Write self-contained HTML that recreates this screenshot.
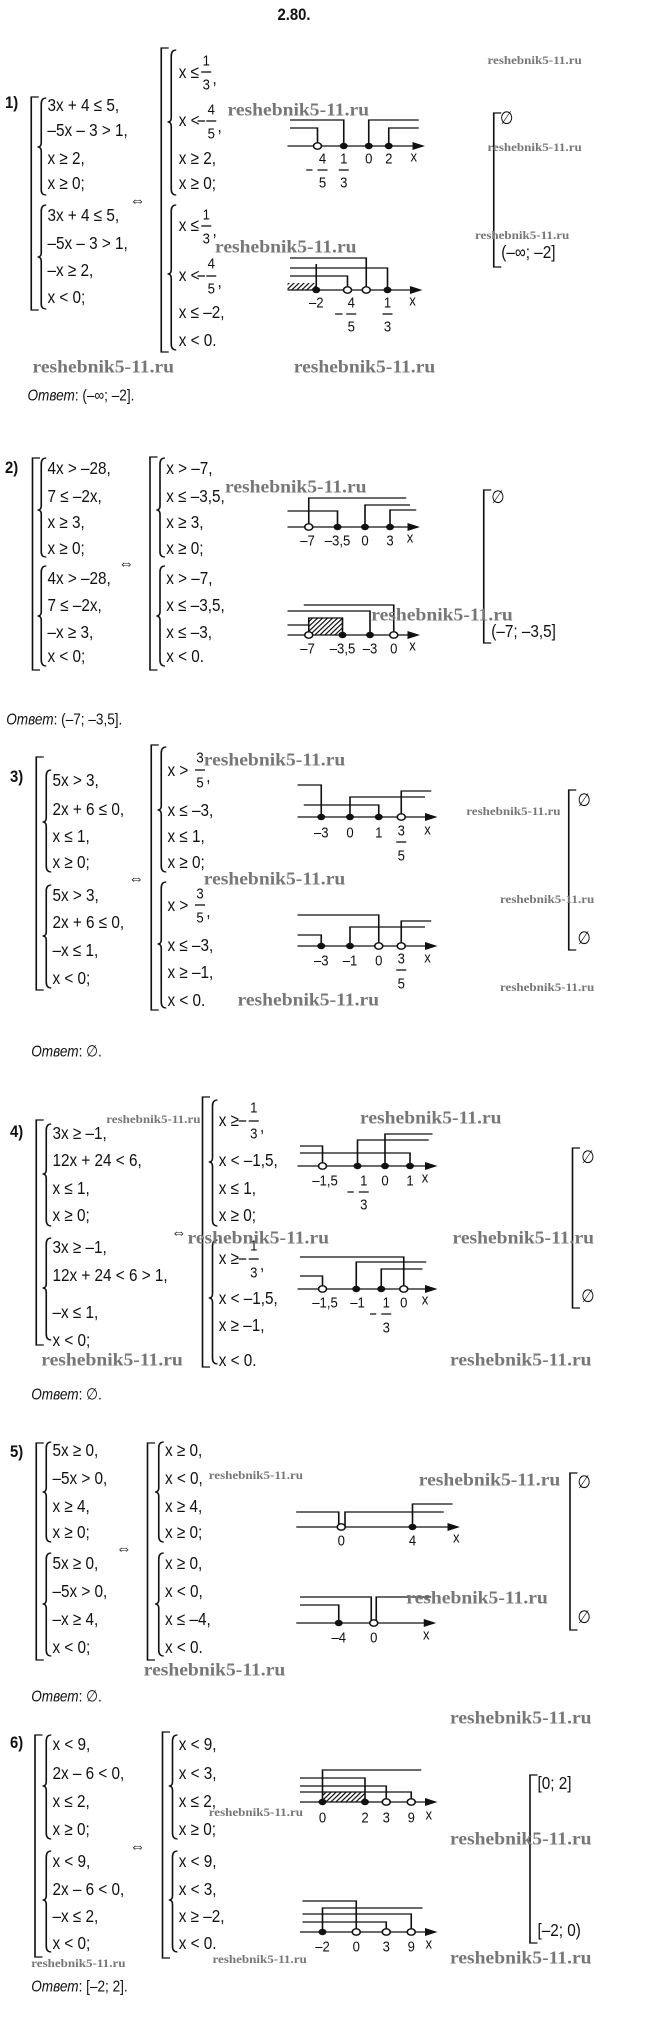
<!DOCTYPE html>
<html><head><meta charset="utf-8"><style>
body{margin:0;background:#fff}
svg{display:block}
.m{font-family:"Liberation Sans",sans-serif;font-size:18px;fill:#111;dominant-baseline:central;transform-box:fill-box;transform-origin:0 50%;transform:scaleX(.68)}
.f{font-family:"Liberation Sans",sans-serif;font-size:15px;fill:#111;dominant-baseline:central;text-anchor:middle;transform-box:fill-box;transform-origin:50% 50%;transform:scaleX(.7)}
.b{font-family:"Liberation Sans",sans-serif;font-size:17px;font-weight:bold;fill:#111;dominant-baseline:central;transform-box:fill-box;transform-origin:0 50%;transform:scaleX(.7)}
.a{font-family:"Liberation Sans",sans-serif;font-size:16px;fill:#111;dominant-baseline:central;transform-box:fill-box;transform-origin:0 50%;transform:scaleX(.68)}
.w{font-family:"Liberation Serif",serif;font-size:18px;font-weight:bold;fill:#777;dominant-baseline:central;transform-box:fill-box;transform-origin:0 50%;transform:scaleX(.87)}
.s{font-family:"Liberation Serif",serif;font-size:12px;font-weight:bold;fill:#777;dominant-baseline:central;transform-box:fill-box;transform-origin:0 50%;transform:scaleX(.87)}
.k{stroke:#111;stroke-width:1.3;fill:none}
.o{fill:#fff;stroke:#111;stroke-width:1.3}
.d{fill:#111}
</style></head><body>
<svg width="650" height="2037" viewBox="0 0 650 2037" xmlns="http://www.w3.org/2000/svg">
<defs><pattern id="h" width="4" height="6" patternUnits="userSpaceOnUse" patternTransform="skewX(-40)"><rect width="1.4" height="6" fill="#111"/></pattern></defs>
<g transform="scale(1.25,1)">
<text class="b" x="222" y="15">2.80.</text>

<!-- ===== 1 ===== -->
<text class="b" x="4" y="103">1)</text>
<path class="k" d="M31 97H25V310H31"/>
<path class="k" d="M37 98Q33 98 33 104V143Q33 147 30 147Q33 147 33 151V190Q33 195 37 195"/>
<path class="k" d="M37 205Q33 205 33 211V253Q33 257 30 257Q33 257 33 261V304Q33 309 37 309"/>
<text class="m" x="38" y="105">3x + 4 ≤ 5,</text>
<text class="m" x="38" y="130">–5x – 3 &gt; 1,</text>
<text class="m" x="38" y="158">x ≥ 2,</text>
<text class="m" x="38" y="183">x ≥ 0;</text>
<text class="m" x="38" y="215">3x + 4 ≤ 5,</text>
<text class="m" x="38" y="243">–5x – 3 &gt; 1,</text>
<text class="m" x="38" y="270">–x ≥ 2,</text>
<text class="m" x="38" y="297">x &lt; 0;</text>
<text class="m" x="104" y="200">⇔</text>
<path class="k" d="M135 48H129V352H135"/>
<path class="k" d="M141 50Q137 50 137 56V118Q137 122 134 122Q137 122 137 126V189Q137 195 141 195"/>
<path class="k" d="M141 205Q137 205 137 211V270Q137 274 134 274Q137 274 137 278V344Q137 350 141 350"/>
<text class="m" x="143" y="72">x ≤</text><text class="f" x="165" y="60">1</text><path class="k" d="M161 72H169"/><text class="f" x="165" y="84">3</text><text class="m" x="170" y="78">,</text>
<text class="m" x="143" y="120">x &lt;</text><path class="k" d="M158 121H164"/><text class="f" x="169" y="109">4</text><path class="k" d="M165 121H173"/><text class="f" x="169" y="133">5</text><text class="m" x="174" y="126">,</text>
<text class="m" x="143" y="158">x ≥ 2,</text>
<text class="m" x="143" y="183">x ≥ 0;</text>
<text class="m" x="143" y="225">x ≤</text><text class="f" x="165" y="214">1</text><path class="k" d="M161 226H169"/><text class="f" x="165" y="238">3</text><text class="m" x="170" y="230">,</text>
<text class="m" x="143" y="275">x &lt;</text><path class="k" d="M158 276H164"/><text class="f" x="169" y="263">4</text><path class="k" d="M165 276H173"/><text class="f" x="169" y="288">5</text><text class="m" x="174" y="281">,</text>
<text class="m" x="143" y="312">x ≤ –2,</text>
<text class="m" x="143" y="340">x &lt; 0.</text>
<!-- NL 1a -->
<path class="k" d="M230 146H334"/><path class="d" d="M340 146L330 142V150Z"/>
<path class="k" d="M232 120H275V146M232 128H254V146M295 146V120H335M311 146V128H335"/>
<circle class="o" cx="254" cy="146" r="3.2"/><circle class="d" cx="275" cy="146" r="3.2"/><circle class="d" cx="295" cy="146" r="3.2"/><circle class="d" cx="311" cy="146" r="3.2"/>
<text class="f" x="258" y="158">4</text><path class="k" d="M245 170H250M254 170H262"/><text class="f" x="258" y="182">5</text>
<text class="f" x="275" y="158">1</text><path class="k" d="M271 170H279"/><text class="f" x="275" y="182">3</text>
<text class="f" x="295" y="158">0</text><text class="f" x="311" y="158">2</text><text class="f" x="331" y="156">x</text>
<!-- NL 1b -->
<rect x="230" y="283" width="23" height="7" fill="url(#h)"/>
<path class="k" d="M230 290H332"/><path class="d" d="M338 290L328 286V294Z"/>
<path class="k" d="M232 258H293V290M232 268H310V290M232 276H278V290M253 290V264"/>
<circle class="d" cx="253" cy="290" r="3.2"/><circle class="o" cx="278" cy="290" r="3.2"/><circle class="o" cx="293" cy="290" r="3.2"/><circle class="d" cx="310" cy="290" r="3.2"/>
<text class="f" x="253" y="302">–2</text>
<text class="f" x="281" y="302">4</text><path class="k" d="M268 314H274M277 314H285"/><text class="f" x="281" y="326">5</text>
<text class="f" x="310" y="302">1</text><path class="k" d="M306 314H314"/><text class="f" x="310" y="326">3</text>
<text class="f" x="330" y="300">x</text>
<path class="k" d="M401 113H395V267H401"/>
<text class="m" x="400" y="118">∅</text>
<text class="m" x="401" y="252">(–∞;  –2]</text>
<text class="s" x="390" y="60">reshebnik5-11.ru</text>
<text class="w" x="182" y="110">reshebnik5-11.ru</text>
<text class="s" x="390" y="147">reshebnik5-11.ru</text>
<text class="s" x="380" y="235">reshebnik5-11.ru</text>
<text class="w" x="172" y="247">reshebnik5-11.ru</text>
<text class="w" x="26" y="367">reshebnik5-11.ru</text>
<text class="w" x="235" y="367">reshebnik5-11.ru</text>
<text class="a" x="22" y="396"><tspan font-style="italic">Ответ</tspan>: (–∞; –2].</text>

<!-- ===== 2 ===== -->
<text class="b" x="4" y="468">2)</text>
<path class="k" d="M32 458H26V670H32"/>
<path class="k" d="M37 458Q33 458 33 464V506Q33 510 30 510Q33 510 33 514V552Q33 557 37 557"/>
<path class="k" d="M37 566Q33 566 33 572V612Q33 616 30 616Q33 616 33 620V660Q33 666 37 666"/>
<text class="m" x="38" y="468">4x &gt; –28,</text>
<text class="m" x="38" y="496">7 ≤ –2x,</text>
<text class="m" x="38" y="522">x ≥ 3,</text>
<text class="m" x="38" y="548">x ≥ 0;</text>
<text class="m" x="38" y="578">4x &gt; –28,</text>
<text class="m" x="38" y="605">7 ≤ –2x,</text>
<text class="m" x="38" y="632">–x ≥ 3,</text>
<text class="m" x="38" y="656">x &lt; 0;</text>
<text class="m" x="95" y="563">⇔</text>
<path class="k" d="M126 457H120V670H126"/>
<path class="k" d="M132 458Q128 458 128 464V506Q128 510 125 510Q128 510 128 514V552Q128 557 132 557"/>
<path class="k" d="M132 566Q128 566 128 572V612Q128 616 125 616Q128 616 128 620V660Q128 666 132 666"/>
<text class="m" x="133" y="468">x &gt; –7,</text>
<text class="m" x="133" y="496">x ≤ –3,5,</text>
<text class="m" x="133" y="522">x ≥ 3,</text>
<text class="m" x="133" y="548">x ≥ 0;</text>
<text class="m" x="133" y="578">x &gt; –7,</text>
<text class="m" x="133" y="605">x ≤ –3,5,</text>
<text class="m" x="133" y="632">x ≤ –3,</text>
<text class="m" x="133" y="656">x &lt; 0.</text>
<path class="k" d="M230 527H330"/><path class="d" d="M336 527L326 523V531Z"/>
<path class="k" d="M247 527V498H325M230 511H270V527M292 527V505H328M312 527V510H333"/>
<circle class="o" cx="247" cy="527" r="3.2"/><circle class="d" cx="270" cy="527" r="3.2"/><circle class="d" cx="292" cy="527" r="3.2"/><circle class="d" cx="312" cy="527" r="3.2"/>
<text class="f" x="246" y="540">–7</text><text class="f" x="270" y="540">–3,5</text><text class="f" x="292" y="540">0</text><text class="f" x="312" y="540">3</text><text class="f" x="328" y="537">x</text>
<rect x="247" y="618" width="27" height="17" fill="url(#h)"/>
<path class="k" d="M230 635H330"/><path class="d" d="M336 635L326 631V639Z"/>
<path class="k" d="M243 605H315V635M230 611H296V635M247 635V618H274V635M230 625H247"/>
<circle class="o" cx="247" cy="635" r="3.2"/><circle class="d" cx="274" cy="635" r="3.2"/><circle class="d" cx="296" cy="635" r="3.2"/><circle class="o" cx="315" cy="635" r="3.2"/>
<text class="f" x="246" y="648">–7</text><text class="f" x="274" y="648">–3,5</text><text class="f" x="296" y="648">–3</text><text class="f" x="315" y="648">0</text><text class="f" x="330" y="645">x</text>
<path class="k" d="M393 490H387V643H393"/>
<text class="m" x="393" y="497">∅</text>
<text class="m" x="393" y="631">(–7;  –3,5]</text>
<text class="w" x="180" y="487">reshebnik5-11.ru</text>
<text class="w" x="297" y="615">reshebnik5-11.ru</text>
<text class="a" x="5" y="720"><tspan font-style="italic">Ответ</tspan>: (–7; –3,5].</text>

<!-- ===== 3 ===== -->
<text class="b" x="8" y="777">3)</text>
<path class="k" d="M35 757H29V990H35"/>
<path class="k" d="M41 770Q37 770 37 776V818Q37 822 34 822Q37 822 37 826V866Q37 872 41 872"/>
<path class="k" d="M41 885Q37 885 37 891V932Q37 936 34 936Q37 936 37 940V982Q37 988 41 988"/>
<text class="m" x="42" y="780">5x &gt; 3,</text>
<text class="m" x="42" y="809">2x + 6 ≤ 0,</text>
<text class="m" x="42" y="836">x ≤ 1,</text>
<text class="m" x="42" y="862">x ≥ 0;</text>
<text class="m" x="42" y="895">5x &gt; 3,</text>
<text class="m" x="42" y="922">2x + 6 ≤ 0,</text>
<text class="m" x="42" y="950">–x ≤ 1,</text>
<text class="m" x="42" y="978">x &lt; 0;</text>
<text class="m" x="103" y="878">⇔</text>
<path class="k" d="M127 745H121V1010H127"/>
<path class="k" d="M133 747Q129 747 129 753V806Q129 810 126 810Q129 810 129 814V866Q129 872 133 872"/>
<path class="k" d="M133 882Q129 882 129 888V940Q129 944 126 944Q129 944 129 948V1002Q129 1008 133 1008"/>
<text class="m" x="134" y="770">x &gt;</text><text class="f" x="160" y="757">3</text><path class="k" d="M156 770H164"/><text class="f" x="160" y="782">5</text><text class="m" x="165" y="776">,</text>
<text class="m" x="134" y="810">x ≤ –3,</text>
<text class="m" x="134" y="836">x ≤ 1,</text>
<text class="m" x="134" y="862">x ≥ 0;</text>
<text class="m" x="134" y="905">x &gt;</text><text class="f" x="160" y="893">3</text><path class="k" d="M156 905H164"/><text class="f" x="160" y="917">5</text><text class="m" x="165" y="911">,</text>
<text class="m" x="134" y="945">x ≤ –3,</text>
<text class="m" x="134" y="972">x ≥ –1,</text>
<text class="m" x="134" y="1000">x &lt; 0.</text>
<path class="k" d="M238 817H344"/><path class="d" d="M350 817L340 813V821Z"/>
<path class="k" d="M238 785H257V817M243 805H303V817M280 817V797H340M321 817V791H345"/>
<circle class="d" cx="257" cy="817" r="3.2"/><circle class="d" cx="280" cy="817" r="3.2"/><circle class="d" cx="303" cy="817" r="3.2"/><circle class="o" cx="321" cy="817" r="3.2"/>
<text class="f" x="257" y="832">–3</text><text class="f" x="280" y="832">0</text><text class="f" x="303" y="832">1</text>
<text class="f" x="321" y="830">3</text><path class="k" d="M317 842H325"/><text class="f" x="321" y="855">5</text><text class="f" x="342" y="829">x</text>
<path class="k" d="M238 946H344"/><path class="d" d="M350 946L340 942V950Z"/>
<path class="k" d="M238 915H303V946M238 935H257V946M280 946V927H340M321 946V921H345"/>
<circle class="d" cx="257" cy="946" r="3.2"/><circle class="d" cx="280" cy="946" r="3.2"/><circle class="o" cx="303" cy="946" r="3.2"/><circle class="o" cx="321" cy="946" r="3.2"/>
<text class="f" x="257" y="960">–3</text><text class="f" x="280" y="960">–1</text><text class="f" x="303" y="960">0</text>
<text class="f" x="321" y="958">3</text><path class="k" d="M317 970H325"/><text class="f" x="321" y="983">5</text><text class="f" x="342" y="957">x</text>
<path class="k" d="M461 790H455V950H461"/>
<text class="m" x="462" y="800">∅</text>
<text class="m" x="462" y="938">∅</text>
<text class="w" x="163" y="760">reshebnik5-11.ru</text>
<text class="s" x="373" y="811">reshebnik5-11.ru</text>
<text class="w" x="163" y="879">reshebnik5-11.ru</text>
<text class="s" x="400" y="899">reshebnik5-11.ru</text>
<text class="s" x="400" y="987">reshebnik5-11.ru</text>
<text class="w" x="190" y="1000">reshebnik5-11.ru</text>
<text class="a" x="25" y="1052"><tspan font-style="italic">Ответ</tspan>: ∅.</text>

<!-- ===== 4 ===== -->
<text class="b" x="8" y="1132">4)</text>
<path class="k" d="M35 1120H29V1345H35"/>
<path class="k" d="M41 1124Q37 1124 37 1130V1170Q37 1174 34 1174Q37 1174 37 1178V1220Q37 1226 41 1226"/>
<path class="k" d="M41 1238Q37 1238 37 1244V1284Q37 1288 34 1288Q37 1288 37 1292V1334Q37 1340 41 1340"/>
<text class="m" x="42" y="1133">3x ≥ –1,</text>
<text class="m" x="42" y="1160">12x + 24 &lt; 6,</text>
<text class="m" x="42" y="1188">x ≤ 1,</text>
<text class="m" x="42" y="1215">x ≥ 0;</text>
<text class="m" x="42" y="1247">3x ≥ –1,</text>
<text class="m" x="42" y="1275">12x + 24 &lt; 6 &gt; 1,</text>
<text class="m" x="42" y="1312">–x ≤ 1,</text>
<text class="m" x="42" y="1340">x &lt; 0;</text>
<text class="m" x="137" y="1232">⇔</text>
<path class="k" d="M168 1097H162V1367H168"/>
<path class="k" d="M174 1100Q170 1100 170 1106V1158Q170 1162 167 1162Q170 1162 170 1166V1220Q170 1226 174 1226"/>
<path class="k" d="M174 1240Q170 1240 170 1246V1294Q170 1298 167 1298Q170 1298 170 1302V1358Q170 1364 174 1364"/>
<text class="m" x="175" y="1120">x ≥</text><path class="k" d="M191 1121H197"/><text class="f" x="203" y="1107">1</text><path class="k" d="M199 1121H207"/><text class="f" x="203" y="1133">3</text><text class="m" x="208" y="1126">,</text>
<text class="m" x="175" y="1160">x &lt; –1,5,</text>
<text class="m" x="175" y="1188">x ≤ 1,</text>
<text class="m" x="175" y="1215">x ≥ 0;</text>
<text class="m" x="175" y="1258">x ≥</text><path class="k" d="M191 1259H197"/><text class="f" x="203" y="1245">1</text><path class="k" d="M199 1259H207"/><text class="f" x="203" y="1272">3</text><text class="m" x="208" y="1264">,</text>
<text class="m" x="175" y="1298">x &lt; –1,5,</text>
<text class="m" x="175" y="1325">x ≥ –1,</text>
<text class="m" x="175" y="1360">x &lt; 0.</text>
<path class="k" d="M238 1166H344"/><path class="d" d="M350 1166L340 1162V1170Z"/>
<path class="k" d="M240 1146H258V1166M240 1153H328V1166M286 1166V1140H343M308 1166V1134H346"/>
<circle class="o" cx="258" cy="1166" r="3.2"/><circle class="d" cx="286" cy="1166" r="3.2"/><circle class="d" cx="308" cy="1166" r="3.2"/><circle class="d" cx="328" cy="1166" r="3.2"/>
<text class="f" x="260" y="1180">–1,5</text>
<text class="f" x="291" y="1180">1</text><path class="k" d="M278 1192H283M287 1192H295"/><text class="f" x="291" y="1204">3</text>
<text class="f" x="308" y="1180">0</text><text class="f" x="328" y="1180">1</text><text class="f" x="340" y="1177">x</text>
<path class="k" d="M238 1289H344"/><path class="d" d="M350 1289L340 1285V1293Z"/>
<path class="k" d="M240 1257H323V1289M240 1276H258V1289M285 1289V1262H341M305 1289V1269H338"/>
<circle class="o" cx="258" cy="1289" r="3.2"/><circle class="d" cx="285" cy="1289" r="3.2"/><circle class="d" cx="305" cy="1289" r="3.2"/><circle class="o" cx="323" cy="1289" r="3.2"/>
<text class="f" x="260" y="1302">–1,5</text><text class="f" x="286" y="1302">–1</text>
<text class="f" x="309" y="1302">1</text><path class="k" d="M296 1314H301M305 1314H313"/><text class="f" x="309" y="1327">3</text>
<text class="f" x="323" y="1302">0</text><text class="f" x="340" y="1299">x</text>
<path class="k" d="M464 1148H458V1308H464"/>
<text class="m" x="465" y="1157">∅</text>
<text class="m" x="465" y="1296">∅</text>
<text class="s" x="85" y="1119">reshebnik5-11.ru</text>
<text class="w" x="288" y="1118">reshebnik5-11.ru</text>
<text class="w" x="150" y="1238">reshebnik5-11.ru</text>
<text class="w" x="362" y="1238">reshebnik5-11.ru</text>
<text class="w" x="33" y="1360">reshebnik5-11.ru</text>
<text class="w" x="360" y="1360">reshebnik5-11.ru</text>
<text class="a" x="25" y="1395"><tspan font-style="italic">Ответ</tspan>: ∅.</text>

<!-- ===== 5 ===== -->
<text class="b" x="8" y="1452">5)</text>
<path class="k" d="M35 1443H29V1660H35"/>
<path class="k" d="M41 1442Q37 1442 37 1448V1488Q37 1492 34 1492Q37 1492 37 1496V1536Q37 1542 41 1542"/>
<path class="k" d="M41 1553Q37 1553 37 1559V1600Q37 1604 34 1604Q37 1604 37 1608V1650Q37 1656 41 1656"/>
<text class="m" x="42" y="1450">5x ≥ 0,</text>
<text class="m" x="42" y="1478">–5x &gt; 0,</text>
<text class="m" x="42" y="1506">x ≥ 4,</text>
<text class="m" x="42" y="1532">x ≥ 0;</text>
<text class="m" x="42" y="1563">5x ≥ 0,</text>
<text class="m" x="42" y="1591">–5x &gt; 0,</text>
<text class="m" x="42" y="1619">–x ≥ 4,</text>
<text class="m" x="42" y="1647">x &lt; 0;</text>
<text class="m" x="93" y="1548">⇔</text>
<path class="k" d="M124 1443H118V1660H124"/>
<path class="k" d="M131 1442Q127 1442 127 1448V1488Q127 1492 124 1492Q127 1492 127 1496V1536Q127 1542 131 1542"/>
<path class="k" d="M131 1553Q127 1553 127 1559V1600Q127 1604 124 1604Q127 1604 127 1608V1650Q127 1656 131 1656"/>
<text class="m" x="132" y="1450">x ≥ 0,</text>
<text class="m" x="132" y="1478">x &lt; 0,</text>
<text class="m" x="132" y="1506">x ≥ 4,</text>
<text class="m" x="132" y="1532">x ≥ 0;</text>
<text class="m" x="132" y="1563">x ≥ 0,</text>
<text class="m" x="132" y="1591">x &lt; 0,</text>
<text class="m" x="132" y="1619">x ≤ –4,</text>
<text class="m" x="132" y="1647">x &lt; 0.</text>
<path class="k" d="M237 1527H362"/><path class="d" d="M368 1527L358 1523V1531Z"/>
<path class="k" d="M237 1512H271V1527M276 1527V1512H355M330 1527V1504H362"/>
<circle class="o" cx="273" cy="1527" r="3.2"/><circle class="d" cx="330" cy="1527" r="3.2"/>
<text class="f" x="273" y="1540">0</text><text class="f" x="330" y="1540">4</text><text class="f" x="365" y="1537">x</text>
<path class="k" d="M237 1623H343"/><path class="d" d="M349 1623L339 1619V1627Z"/>
<path class="k" d="M240 1597H297V1623M301 1623V1597H345M240 1605H271V1623"/>
<circle class="d" cx="271" cy="1623" r="3.2"/><circle class="o" cx="299" cy="1623" r="3.2"/>
<text class="f" x="271" y="1637">–4</text><text class="f" x="299" y="1637">0</text><text class="f" x="341" y="1634">x</text>
<path class="k" d="M462 1473H456V1630H462"/>
<text class="m" x="462" y="1482">∅</text>
<text class="m" x="462" y="1617">∅</text>
<text class="s" x="167" y="1475">reshebnik5-11.ru</text>
<text class="w" x="335" y="1480">reshebnik5-11.ru</text>
<text class="w" x="325" y="1598">reshebnik5-11.ru</text>
<text class="w" x="115" y="1670">reshebnik5-11.ru</text>
<text class="w" x="360" y="1718">reshebnik5-11.ru</text>
<text class="a" x="25" y="1697"><tspan font-style="italic">Ответ</tspan>: ∅.</text>

<!-- ===== 6 ===== -->
<text class="b" x="8" y="1743">6)</text>
<path class="k" d="M34 1735H28V1957H34"/>
<path class="k" d="M41 1735Q37 1735 37 1741V1782Q37 1786 34 1786Q37 1786 37 1790V1833Q37 1839 41 1839"/>
<path class="k" d="M41 1851Q37 1851 37 1857V1896Q37 1900 34 1900Q37 1900 37 1904V1946Q37 1952 41 1952"/>
<text class="m" x="42" y="1744">x &lt; 9,</text>
<text class="m" x="42" y="1773">2x – 6 &lt; 0,</text>
<text class="m" x="42" y="1801">x ≤ 2,</text>
<text class="m" x="42" y="1829">x ≥ 0;</text>
<text class="m" x="42" y="1861">x &lt; 9,</text>
<text class="m" x="42" y="1889">2x – 6 &lt; 0,</text>
<text class="m" x="42" y="1916">–x ≤ 2,</text>
<text class="m" x="42" y="1943">x &lt; 0;</text>
<text class="m" x="104" y="1846">⇔</text>
<path class="k" d="M136 1732H130V1958H136"/>
<path class="k" d="M142 1735Q138 1735 138 1741V1782Q138 1786 135 1786Q138 1786 138 1790V1833Q138 1839 142 1839"/>
<path class="k" d="M142 1851Q138 1851 138 1857V1896Q138 1900 135 1900Q138 1900 138 1904V1946Q138 1952 142 1952"/>
<text class="m" x="143" y="1744">x &lt; 9,</text>
<text class="m" x="143" y="1773">x &lt; 3,</text>
<text class="m" x="143" y="1801">x ≤ 2,</text>
<text class="m" x="143" y="1829">x ≥ 0;</text>
<text class="m" x="143" y="1861">x &lt; 9,</text>
<text class="m" x="143" y="1889">x &lt; 3,</text>
<text class="m" x="143" y="1916">x ≥ –2,</text>
<text class="m" x="143" y="1943">x &lt; 0.</text>
<rect x="258" y="1792" width="34" height="10" fill="url(#h)"/>
<path class="k" d="M240 1802H344"/><path class="d" d="M350 1802L340 1798V1806Z"/>
<path class="k" d="M258 1802V1770H337M240 1778H292V1802M240 1786H309V1802M240 1792H329V1802"/>
<circle class="d" cx="258" cy="1802" r="3.2"/><circle class="d" cx="292" cy="1802" r="3.2"/><circle class="o" cx="309" cy="1802" r="3.2"/><circle class="o" cx="329" cy="1802" r="3.2"/>
<text class="f" x="258" y="1817">0</text><text class="f" x="292" y="1817">2</text><text class="f" x="309" y="1817">3</text><text class="f" x="329" y="1817">9</text><text class="f" x="343" y="1814">x</text>
<path class="k" d="M240 1932H344"/><path class="d" d="M350 1932L340 1928V1936Z"/>
<path class="k" d="M242 1901H285V1932M258 1932V1908H338M242 1914H329V1932M242 1922H309V1932"/>
<circle class="d" cx="258" cy="1932" r="3.2"/><circle class="o" cx="285" cy="1932" r="3.2"/><circle class="o" cx="309" cy="1932" r="3.2"/><circle class="o" cx="329" cy="1932" r="3.2"/>
<text class="f" x="258" y="1946">–2</text><text class="f" x="285" y="1946">0</text><text class="f" x="309" y="1946">3</text><text class="f" x="329" y="1946">9</text><text class="f" x="343" y="1943">x</text>
<path class="k" d="M430 1775H424V1943H430"/>
<text class="m" x="430" y="1783">[0; 2]</text>
<text class="m" x="430" y="1930">[–2; 0)</text>
<text class="s" x="167" y="1812">reshebnik5-11.ru</text>
<text class="w" x="360" y="1839">reshebnik5-11.ru</text>
<text class="s" x="25" y="1963">reshebnik5-11.ru</text>
<text class="s" x="170" y="1959">reshebnik5-11.ru</text>
<text class="w" x="360" y="1958">reshebnik5-11.ru</text>
<text class="a" x="25" y="1987"><tspan font-style="italic">Ответ</tspan>: [–2; 2].</text>
</g>
</svg>
</body></html>
